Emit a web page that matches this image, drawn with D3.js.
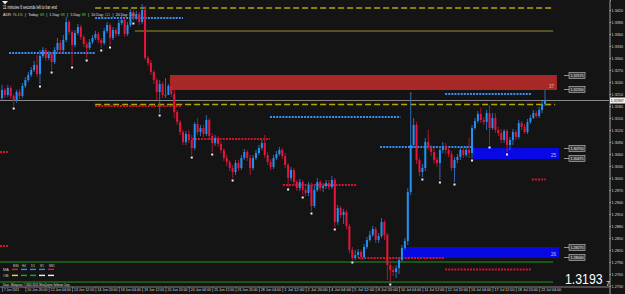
<!DOCTYPE html>
<html><head><meta charset="utf-8">
<script src="https://cdn.jsdelivr.net/npm/d3@7"></script>
<style>html,body{margin:0;padding:0;background:#141414;overflow:hidden}svg{display:block}</style>
</head><body><svg id="c" width="625" height="294"></svg>
<script>
// ---------- DATA (EURUSD H4) ----------
const firstOpen = 1.3200;
const closes = [1.3220,1.32075,1.3225,1.3205,1.3195,1.3215,1.3205,1.3230,1.3245,1.32575,
1.3270,1.32825,1.3260,1.3305,1.3320,1.3300,1.3310,1.3290,1.3320,1.33375,
1.3320,1.3345,1.3390,1.3365,1.33325,1.33625,1.33775,1.33525,1.3335,1.3325,
1.3340,1.3350,1.3360,1.3345,1.33375,1.33675,1.33825,1.3350,1.3370,1.3360,
1.33875,1.3395,1.3360,1.33825,1.3415,1.3400,1.3410,1.3390,1.3420,1.3300,
1.32875,1.3265,1.3245,1.3215,1.3235,1.32075,1.32075,1.3230,1.3210,1.3165,
1.3140,1.3115,1.3090,1.3110,1.3095,1.3075,1.3135,1.3115,1.3125,1.3110,
1.3145,1.3105,1.30875,1.3100,1.3085,1.3070,1.3050,1.3040,1.3025,1.3015,
1.30375,1.3025,1.3050,1.3065,1.3050,1.3025,1.3050,1.30625,1.3075,1.30875,
1.30575,1.3040,1.30275,1.3050,1.3060,1.3070,1.3055,1.30325,1.3000,1.3020,
1.2990,1.2975,1.2990,1.2970,1.29625,1.29825,1.2930,1.2970,1.2990,1.2975,
1.2980,1.29875,1.29775,1.2995,1.2890,1.2925,1.29075,1.2915,1.2880,1.2820,
1.2800,1.28075,1.2815,1.28025,1.28275,1.2845,1.28575,1.28725,1.2845,1.2855,
1.2890,1.28575,1.27825,1.2770,1.2765,1.2775,1.2795,1.2825,1.28425,1.2965,
1.30825,1.31325,1.3045,1.3015,1.3025,1.3090,1.30775,1.3065,1.3045,1.30375,
1.3070,1.3080,1.3070,1.3060,1.3025,1.3045,1.30525,1.3070,1.30575,1.3070,
1.30625,1.3125,1.31425,1.3160,1.3145,1.3140,1.31625,1.3125,1.3150,1.3120,
1.31125,1.3095,1.31175,1.30825,1.3095,1.3115,1.31025,1.31375,1.31275,1.3115,
1.3140,1.3150,1.31625,1.3155,1.3170,1.3185,1.31937];
const highs = [1.32325,1.3225,1.32325,1.3230,1.3210,1.3220,1.32225,1.32375,1.32525,1.3265,
1.32775,1.32925,1.33075,1.3320,1.33275,1.3325,1.33175,1.3315,1.33275,1.3350,
1.3345,1.33575,1.34025,1.3395,1.3370,1.3370,1.3385,1.33825,1.33575,1.3340,
1.33475,1.33575,1.33675,1.3365,1.3350,1.3375,1.3390,1.33875,1.33775,1.3375,
1.3395,1.3405,1.3400,1.3390,1.34225,1.3420,1.34175,1.3415,1.3435,1.3430,
1.3305,1.3295,1.3270,1.3250,1.3245,1.3240,1.3250,1.3235,1.3235,1.3220,
1.3170,1.3145,1.3120,1.31175,1.3120,1.31075,1.3140,1.3150,1.31325,1.31325,
1.31575,1.3150,1.31125,1.31075,1.3105,1.30925,1.3075,1.30575,1.3045,1.30325,
1.3045,1.3045,1.30575,1.30725,1.3070,1.30575,1.30575,1.3070,1.30825,1.3095,
1.31075,1.3065,1.30475,1.30575,1.30675,1.30775,1.3075,1.30625,1.30375,1.30275,
1.3025,1.2995,1.29975,1.2995,1.29775,1.2990,1.29875,1.2980,1.3000,1.2995,
1.29875,1.2995,1.2995,1.3005,1.3000,1.29325,1.2930,1.29225,1.2920,1.2885,
1.28275,1.2820,1.28225,1.2820,1.2835,1.28525,1.28675,1.2880,1.28775,1.28625,
1.2900,1.2895,1.28625,1.2790,1.2780,1.27825,1.28025,1.28325,1.2850,1.2975,
1.3210,1.3150,1.3140,1.3050,1.3035,1.3100,1.3120,1.30825,1.3075,1.30525,
1.3080,1.3090,1.30875,1.30775,1.30675,1.30525,1.3060,1.30775,1.30775,1.3080,
1.3100,1.31325,1.3150,1.31675,1.3175,1.31525,1.3170,1.31825,1.31625,1.31625,
1.31275,1.31225,1.31225,1.31225,1.31025,1.31225,1.3120,1.3145,1.31425,1.3135,
1.31475,1.31575,1.3170,1.31675,1.31775,1.31925,1.3220];
const lows = [1.3195,1.3200,1.32025,1.31975,1.3180,1.31875,1.31975,1.3200,1.3225,1.3240,
1.32525,1.3265,1.32525,1.3235,1.3300,1.32925,1.3295,1.3270,1.3285,1.3315,
1.33125,1.3315,1.3340,1.33575,1.32825,1.33275,1.33575,1.3345,1.33275,1.3300,
1.3320,1.3335,1.3345,1.33375,1.3325,1.33325,1.33625,1.33325,1.3345,1.33525,
1.3355,1.33825,1.33525,1.3355,1.33775,1.33925,1.3395,1.33825,1.3385,1.3295,
1.3280,1.32575,1.3235,1.3195,1.31625,1.3200,1.3200,1.3215,1.32025,1.3150,
1.31325,1.31075,1.30825,1.30825,1.30875,1.30575,1.3070,1.31075,1.3105,1.31025,
1.3105,1.3095,1.3065,1.3080,1.30775,1.30625,1.30425,1.3030,1.30175,1.3000,
1.30075,1.30175,1.3020,1.3045,1.30425,1.30075,1.3020,1.3045,1.30575,1.3070,
1.3050,1.30325,1.3020,1.30225,1.3045,1.3055,1.30475,1.3025,1.29775,1.29925,
1.29825,1.29675,1.29675,1.29575,1.2955,1.2955,1.29175,1.2925,1.2965,1.29675,
1.2965,1.29725,1.2970,1.29725,1.28775,1.28825,1.2900,1.2885,1.28725,1.28125,
1.2795,1.2795,1.2800,1.2795,1.27975,1.28225,1.2840,1.28525,1.28375,1.28375,
1.2850,1.2845,1.2745,1.2740,1.2755,1.2750,1.2760,1.2790,1.2820,1.28325,
1.29575,1.3075,1.3035,1.3005,1.30025,1.30175,1.3070,1.3055,1.3035,1.30275,
1.2995,1.30625,1.3060,1.30525,1.30175,1.2990,1.30375,1.3045,1.3050,1.30525,
1.3050,1.3050,1.3120,1.31375,1.31375,1.31325,1.3120,1.30825,1.3120,1.31125,
1.3105,1.30875,1.30875,1.3065,1.3070,1.30825,1.3095,1.30975,1.3120,1.3110,
1.3110,1.3135,1.31475,1.3150,1.3150,1.31625,1.3180];
const bidPrice = 1.31937;

const xTickBars = [0,8,16,24,32,40,48,56,64,72,80,88,96,104,112,120,128,136,144,152,160,168,176,184];
const xTickLabels = ["7 Jun 2013","10 Jun 20:00","12 Jun 04:00","13 Jun 12:00","14 Jun 20:00","18 Jun 04:00",
"19 Jun 12:00","20 Jun 20:00","24 Jun 04:00","25 Jun 12:00","26 Jun 20:00","28 Jun 04:00","1 Jul 12:00",
"2 Jul 20:00","4 Jul 04:00","5 Jul 12:00","8 Jul 20:00","10 Jul 04:00","11 Jul 12:00","12 Jul 20:00",
"16 Jul 04:00","17 Jul 12:00","18 Jul 20:00","22 Jul 04:00"];
const yTicks = [1.3420,1.3390,1.3360,1.3330,1.3300,1.3270,1.3240,1.3210,1.3180,1.3150,1.3120,1.3090,
1.3060,1.3030,1.3000,1.2970,1.2940,1.2910,1.2880,1.2850,1.2820,1.2790,1.2760,1.2730];

// supply / demand zones
const zoneTop = [1.32575, 1.3075, 1.28275];
const zoneBottom = [1.3220, 1.30475, 1.2800];
const zoneFrom = [57.5, 161.3, 137.7];
const zoneTo = [190.1, 190.8, 190.8];
const zoneCount = ["37", "25", "26"];
const zoneKind = ["supply", "demand", "demand"];

// horizontal levels
const dashedPrices = [1.3425, 1.31838];
const dashedFrom = [31.9, 31.9];
const dashedTo = [188.8, 189.5];
const solidPrices = [1.33675];
const solidFrom = [45.5];
const solidTo = [188.8];
const dotPrices = [1.3400, 1.33125, 1.3180, 1.31525, 1.30975, 1.3210, 1.30775, 1.29825, 1.2800, 1.29963, 1.27713, 1.3065, 1.2830];
const dotFrom   = [31.9, 2.4, 31.9, 91.8, 65.0, 151.8, 129.5, 96.2, 122.0, 181.5, 151.8, -0.7, -0.7];
const dotTo     = [62.0, 31.9, 61.7, 136.5, 91.8, 181.5, 161.0, 121.7, 151.5, 186.3, 181.5, 2.1, 2.1];
const dotKind   = ["up","up","dn","up","dn","up","up","dn","dn","dn","dn","dn","dn"];
const greenPrices = [1.2790, 1.2740];
const greenFrom = [-0.7, -0.7];
const greenTo = [188.8, 188.8];

const fractalLowBars = [4,13,17,24,29,34,37,45,54,65,72,79,98,103,106,114,120,133,144,150,155,161,167,173];
const fractalHighBars = [140];

const adrLabels = ["ADR:", "Today:", "1 Day:", "5 Day:", "10 Day:", "20 Day:"];
const adrValues = ["76.1%", "68", "88", "88", "111", "106"];
const legendTf = ["M30", "H4", "D1", "W1", "MN1"];
const legendRows = ["MA", "OB"];

// ---------- DRAW ----------
const W = 625, H = 294;
const svg = d3.select("#c");
const FONT = "'Liberation Sans', Arial, sans-serif";
const x = d3.scaleLinear().domain([0, 186]).range([2, 545]);
const y = d3.scaleLinear().domain([1.3445, 1.3445 - H / 4000]).range([0, H]);

svg.append("rect").attr("width", W).attr("height", H).attr("fill", "#141414");

// zones (behind)
const zones = zoneTop.map((t, i) => ({t, b: zoneBottom[i], f: zoneFrom[i], e: zoneTo[i], n: zoneCount[i], k: zoneKind[i]}));
svg.append("g").selectAll("rect").data(zones).join("rect")
  .attr("x", d => x(d.f)).attr("width", d => x(d.e) - x(d.f))
  .attr("y", d => y(d.t)).attr("height", d => y(d.b) - y(d.t))
  .attr("fill", d => d.k === "supply" ? "#a82828" : "#0808e4");
svg.append("g").selectAll("text").data(zones).join("text")
  .attr("x", d => x(d.e) - 8).attr("y", d => y(d.b) - 2.5)
  .attr("font-family", FONT).attr("font-size", 4.5)
  .attr("fill", d => d.k === "supply" ? "#e7b7b7" : "#b8c8ff")
  .text(d => d.n);

// price boxes at zone edges
const edgePrices = zones.flatMap(z => [z.t, z.b]);
const edgeG = svg.append("g");
edgePrices.forEach((p, i) => {
  const yy = Math.round(y(p)) + (i % 2 === 1 ? -0.5 : 0.5);
  edgeG.append("line").attr("x1", 564).attr("x2", 569).attr("y1", yy).attr("y2", yy).attr("stroke", "#b0b0b0").attr("stroke-width", 0.8);
  edgeG.append("rect").attr("x", 569).attr("y", yy - 3).attr("width", 16).attr("height", 6)
    .attr("fill", "#3a3a3a").attr("stroke", "#c8c8c8").attr("stroke-width", 0.6);
  edgeG.append("text").attr("x", 570.5).attr("y", yy + 1.5).attr("font-family", FONT).attr("font-size", 3.6)
    .attr("textLength", 13).attr("lengthAdjust", "spacingAndGlyphs").attr("fill", "#f0f0f0").text(p.toFixed(5));
});

// level lines
const lineG = svg.append("g");
dashedPrices.forEach((p, i) => lineG.append("line")
  .attr("x1", x(dashedFrom[i])).attr("x2", x(dashedTo[i])).attr("y1", y(p)).attr("y2", y(p))
  .attr("stroke", "#b8a400").attr("stroke-width", 1.4).attr("stroke-dasharray", "6 3"));
solidPrices.forEach((p, i) => lineG.append("line")
  .attr("x1", x(solidFrom[i])).attr("x2", x(solidTo[i])).attr("y1", y(p)).attr("y2", y(p))
  .attr("stroke", "#9a9030").attr("stroke-width", 1));
dotPrices.forEach((p, i) => lineG.append("line")
  .attr("x1", x(dotFrom[i])).attr("x2", x(dotTo[i])).attr("y1", y(p)).attr("y2", y(p))
  .attr("stroke", dotKind[i] === "up" ? "#3a8ef0" : "#d4142c").attr("stroke-width", 2).attr("stroke-dasharray", "2 1.1"));
greenPrices.forEach((p, i) => lineG.append("line")
  .attr("x1", x(greenFrom[i])).attr("x2", x(greenTo[i])).attr("y1", y(p)).attr("y2", y(p))
  .attr("stroke", "#1c9a1c").attr("stroke-width", 1));
// bid line
lineG.append("line").attr("x1", 0).attr("x2", 609).attr("y1", y(bidPrice)).attr("y2", y(bidPrice))
  .attr("stroke", "#8c8c8c").attr("stroke-width", 1);

// candles
const bars = closes.map((c, i) => ({i, o: i === 0 ? firstOpen : closes[i - 1], c, h: highs[i], l: lows[i]}));
const col = d => d.c > d.o ? "#2290f4" : (d.c < d.o ? "#e8143c" : "#1f8a1f");
const wcol = d => d.c > d.o ? "#2a6cb4" : (d.c < d.o ? "#a81830" : "#1f8a1f");
const cg = svg.append("g");
cg.selectAll("line").data(bars).join("line")
  .attr("x1", d => x(d.i)).attr("x2", d => x(d.i))
  .attr("y1", d => y(d.h)).attr("y2", d => y(d.l))
  .attr("stroke", wcol).attr("stroke-width", 1);
cg.selectAll("rect").data(bars).join("rect")
  .attr("x", d => x(d.i) - 1).attr("width", 2)
  .attr("y", d => y(Math.max(d.o, d.c)))
  .attr("height", d => Math.max(1, Math.abs(y(d.o) - y(d.c))))
  .attr("fill", col);

// fractal markers
svg.append("g").selectAll("rect").data(fractalLowBars).join("rect")
  .attr("x", i => x(i) - 1).attr("y", i => y(lows[i]) + 1.5).attr("width", 2).attr("height", 2).attr("fill", "#f2f2f2");
svg.append("g").selectAll("rect").data(fractalHighBars).join("rect")
  .attr("x", i => x(i) - 1).attr("y", i => y(highs[i]) - 1.5).attr("width", 2).attr("height", 1.5).attr("fill", "#e01830");

// y axis (right)
const yAxis = d3.axisRight(y).tickValues(yTicks).tickFormat(d3.format(".4f")).tickSize(1.5).tickPadding(0.5);
const ya = svg.append("g").attr("transform", "translate(609.5,0)").call(yAxis);
ya.select(".domain").attr("stroke", "#a0a0a0");
ya.selectAll(".tick line").attr("stroke", "#a0a0a0");
ya.selectAll("text").attr("font-family", FONT).attr("font-size", 4.1).attr("fill", "#d8d8d8")
  .attr("textLength", 11.5).attr("lengthAdjust", "spacingAndGlyphs");
// bid label on axis
svg.append("rect").attr("x", 610).attr("y", y(bidPrice) - 3).attr("width", 15).attr("height", 6).attr("fill", "#f0f0f0");
svg.append("text").attr("x", 610.8).attr("y", y(bidPrice) + 1.5).attr("font-family", FONT).attr("font-size", 3.7)
  .attr("textLength", 13).attr("lengthAdjust", "spacingAndGlyphs").attr("fill", "#111").text(bidPrice.toFixed(5));

// x axis
svg.append("line").attr("x1", 0).attr("x2", 609).attr("y1", 287).attr("y2", 287).attr("stroke", "#a0a0a0").attr("stroke-width", 0.8);
const xAxis = d3.axisBottom(x).tickValues(xTickBars).tickFormat((d, i) => xTickLabels[i]).tickSize(5).tickPadding(0);
const xa = svg.append("g").attr("transform", "translate(0,287)").call(xAxis);
xa.select(".domain").remove();
xa.selectAll(".tick line").attr("stroke", "#a0a0a0").attr("stroke-width", 0.6);
xa.selectAll("text").attr("font-family", FONT).attr("font-size", 3.8).attr("fill", "#d8d8d8")
  .attr("text-anchor", "start").attr("dx", 1.5).attr("y", 1.8).attr("dy", "0.71em")
  .attr("textLength", (d, i) => i === 0 ? 15 : 20).attr("lengthAdjust", "spacingAndGlyphs");

// top-left info
svg.append("path").attr("d", "M2,1 L8,1 L5,4.5 Z").attr("fill", "#e8e8e8");
svg.append("text").attr("x", 3).attr("y", 9).attr("font-family", FONT).attr("font-size", 4.5)
  .attr("textLength", 54).attr("lengthAdjust", "spacingAndGlyphs").attr("fill", "#e8e8e8")
  .text("11 minutes 6 seconds left to bar end");
const topG = svg.append("g").attr("font-family", FONT).attr("font-size", 3.6);
let cx = 3;
adrLabels.forEach((lab, i) => {
  const t1 = topG.append("text").attr("x", cx).attr("y", 15.5).attr("fill", "#e0e0e0").text(lab);
  cx += t1.node().getComputedTextLength() + 1;
  const t2 = topG.append("text").attr("x", cx).attr("y", 15.5).attr("fill", i === 0 ? "#d8d020" : "#40d040").text(adrValues[i]);
  cx += t2.node().getComputedTextLength() + 2.2;
  if (i < adrLabels.length - 1) {
    const s = topG.append("text").attr("x", cx).attr("y", 15.5).attr("fill", "#e0e0e0").text("|");
    cx += s.node().getComputedTextLength() + 2.4;
  }
});

// legend (bottom-left)
const lg = svg.append("g").attr("font-family", FONT).attr("font-size", 3.8);
const tfX = [13, 22, 31, 40, 49];
legendTf.forEach((t, i) => lg.append("text").attr("x", tfX[i]).attr("y", 266.5).attr("fill", "#d0d0d0")
  .attr("textLength", t.length * 1.9).attr("lengthAdjust", "spacingAndGlyphs").text(t));
legendRows.forEach((r, j) => lg.append("text").attr("x", 3).attr("y", 271 + j * 6).attr("fill", "#d0d0d0").text(r));
const legendColors = [["#e8143c", "#2290f4", "#2290f4", "#2290f4", "#e8143c"], ["#e8e020", "#1fa81f", "#1fa81f", "#f0f0f0", "#f0f0f0"]];
legendColors.forEach((row, j) => row.forEach((c, i) => lg.append("rect")
  .attr("x", tfX[i] - 1).attr("y", 268.7 + j * 6).attr("width", 6).attr("height", 1.4).attr("fill", c)));
svg.append("text").attr("x", 3).attr("y", 285.5).attr("font-family", FONT).attr("font-size", 4.2)
  .attr("textLength", 67).attr("lengthAdjust", "spacingAndGlyphs").attr("fill", "#e0e0e0")
  .text("Dave - Malaysian, \u00a9 2001-2013, MetaQuotes Software Corp.");

// big price
const bidStr = bidPrice.toFixed(5);
svg.append("text").attr("transform", "translate(565,283.5) scale(1,1.2)").attr("font-family", FONT).attr("font-size", 12.3)
  .attr("fill", "#ffffff").text(bidStr.slice(0, 6));
svg.append("text").attr("x", 606).attr("y", 285.5).attr("font-family", FONT).attr("font-size", 7)
  .attr("fill", "#ffffff").text(bidStr.slice(6));
</script>
</body></html>
